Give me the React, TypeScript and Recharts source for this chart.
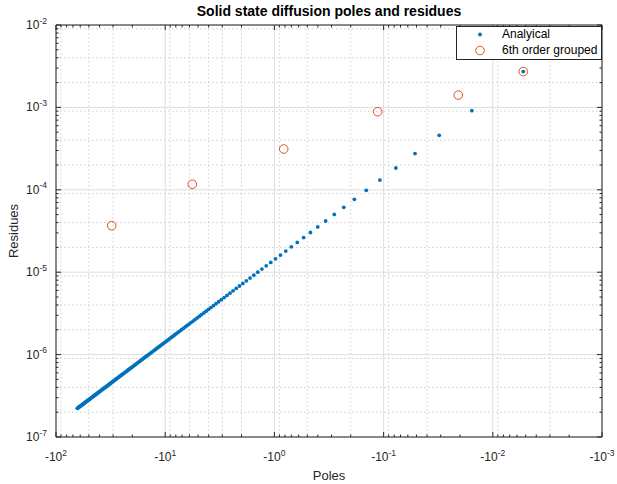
import React from 'react';
import { ScatterChart, Scatter, XAxis, YAxis, CartesianGrid } from 'recharts';

// Analytical poles (1/s) and residues
const analyticalPoles = [
  -0.00526, -0.01555, -0.03097, -0.05154, -0.07725, -0.1081, -0.1441, -0.1852, -0.2315, -0.2829,
  -0.3395, -0.4012, -0.4681, -0.5400, -0.6172, -0.6994, -0.7869, -0.8794, -0.9771, -1.080,
  -1.188, -1.302, -1.420, -1.543, -1.672, -1.806, -1.944, -2.088, -2.237, -2.392,
  -2.551, -2.716, -2.885, -3.060, -3.240, -3.425, -3.616, -3.811, -4.011, -4.217,
  -4.428, -4.644, -4.865, -5.091, -5.323, -5.559, -5.801, -6.048, -6.300, -6.557,
  -6.819, -7.086, -7.359, -7.637, -7.919, -8.207, -8.500, -8.799, -9.102, -9.411,
  -9.724, -10.04, -10.37, -10.70, -11.03, -11.37, -11.71, -12.06, -12.42, -12.78,
  -13.14, -13.51, -13.89, -14.27, -14.66, -15.05, -15.44, -15.84, -16.25, -16.66,
  -17.08, -17.50, -17.93, -18.36, -18.80, -19.24, -19.68, -20.14, -20.59, -21.06,
  -21.53, -22.00, -22.48, -22.96, -23.45, -23.94, -24.44, -24.95, -25.45, -25.97,
  -26.49, -27.01, -27.54, -28.08, -28.62, -29.16, -29.71, -30.27, -30.83, -31.39,
  -31.96, -32.54, -33.12, -33.71, -34.30, -34.89, -35.50, -36.10, -36.71, -37.33,
  -37.95, -38.58, -39.21, -39.85, -40.49, -41.14, -41.80, -42.45, -43.12, -43.79,
  -44.46, -45.14, -45.82, -46.51, -47.20, -47.90, -48.61, -49.32, -50.03, -50.75,
  -51.48, -52.21, -52.94, -53.68, -54.43, -55.18, -55.94, -56.70, -57.46, -58.23,
  -59.01, -59.79, -60.58, -61.37, -62.17, -62.97, -63.78,
];

const analyticalResidues = [
  2.72e-3, 9.13e-4, 4.585e-4, 2.755e-4, 1.838e-4, 1.314e-4, 9.854e-5, 7.666e-5, 6.134e-5, 5.019e-5,
  4.183e-5, 3.539e-5, 3.034e-5, 2.630e-5, 2.301e-5, 2.030e-5, 1.805e-5, 1.615e-5, 1.453e-5, 1.315e-5,
  1.195e-5, 1.091e-5, 1.000e-5, 9.201e-6, 8.494e-6, 7.865e-6, 7.303e-6, 6.800e-6, 6.346e-6, 5.937e-6,
  5.566e-6, 5.229e-6, 4.921e-6, 4.640e-6, 4.382e-6, 4.146e-6, 3.927e-6, 3.726e-6, 3.540e-6, 3.367e-6,
  3.207e-6, 3.058e-6, 2.919e-6, 2.789e-6, 2.668e-6, 2.554e-6, 2.448e-6, 2.348e-6, 2.254e-6, 2.166e-6,
  2.082e-6, 2.004e-6, 1.930e-6, 1.859e-6, 1.793e-6, 1.730e-6, 1.670e-6, 1.614e-6, 1.560e-6, 1.509e-6,
  1.460e-6, 1.414e-6, 1.370e-6, 1.328e-6, 1.287e-6, 1.249e-6, 1.212e-6, 1.177e-6, 1.143e-6, 1.111e-6,
  1.080e-6, 1.051e-6, 1.022e-6, 9.951e-7, 9.689e-7, 9.437e-7, 9.195e-7, 8.963e-7, 8.739e-7, 8.523e-7,
  8.315e-7, 8.115e-7, 7.921e-7, 7.735e-7, 7.555e-7, 7.382e-7, 7.214e-7, 7.052e-7, 6.895e-7, 6.743e-7,
  6.597e-7, 6.455e-7, 6.318e-7, 6.185e-7, 6.056e-7, 5.931e-7, 5.810e-7, 5.692e-7, 5.579e-7, 5.468e-7,
  5.361e-7, 5.257e-7, 5.156e-7, 5.058e-7, 4.962e-7, 4.869e-7, 4.779e-7, 4.692e-7, 4.606e-7, 4.523e-7,
  4.443e-7, 4.364e-7, 4.287e-7, 4.213e-7, 4.140e-7, 4.069e-7, 4.000e-7, 3.933e-7, 3.868e-7, 3.804e-7,
  3.741e-7, 3.680e-7, 3.621e-7, 3.563e-7, 3.507e-7, 3.451e-7, 3.397e-7, 3.345e-7, 3.293e-7, 3.243e-7,
  3.194e-7, 3.146e-7, 3.099e-7, 3.053e-7, 3.008e-7, 2.964e-7, 2.921e-7, 2.879e-7, 2.838e-7, 2.798e-7,
  2.758e-7, 2.720e-7, 2.682e-7, 2.645e-7, 2.609e-7, 2.573e-7, 2.539e-7, 2.504e-7, 2.471e-7, 2.438e-7,
  2.406e-7, 2.375e-7, 2.344e-7, 2.314e-7, 2.284e-7, 2.255e-7, 2.226e-7,
];

// 6th order grouped model
const groupedPoles = [-30.9, -5.65, -0.822, -0.1132, -0.0207, -0.00526];
const groupedResidues = [3.67e-5, 1.167e-4, 3.126e-4, 8.87e-4, 1.41e-3, 2.72e-3];

// Axis ticks (x axis shows |pole| on a reversed log scale, labelled as negative)
const xMajorTicks = [100, 10, 1, 0.1, 0.01, 0.001];
const xMinorTicks = [
  0.002, 0.003, 0.004, 0.005, 0.006, 0.007, 0.008, 0.009,
  0.02, 0.03, 0.04, 0.05, 0.06, 0.07, 0.08, 0.09,
  0.2, 0.3, 0.4, 0.5, 0.6, 0.7, 0.8, 0.9,
  2, 3, 4, 5, 6, 7, 8, 9,
  20, 30, 40, 50, 60, 70, 80, 90,
];
const yMajorTicks = [1e-7, 1e-6, 1e-5, 1e-4, 1e-3, 1e-2];
const yMinorTicks = [
  2e-7, 3e-7, 4e-7, 5e-7, 6e-7, 7e-7, 8e-7, 9e-7,
  2e-6, 3e-6, 4e-6, 5e-6, 6e-6, 7e-6, 8e-6, 9e-6,
  2e-5, 3e-5, 4e-5, 5e-5, 6e-5, 7e-5, 8e-5, 9e-5,
  2e-4, 3e-4, 4e-4, 5e-4, 6e-4, 7e-4, 8e-4, 9e-4,
  2e-3, 3e-3, 4e-3, 5e-3, 6e-3, 7e-3, 8e-3, 9e-3,
];

const TITLE = 'Solid state diffusion poles and residues';
const X_LABEL = 'Poles';
const Y_LABEL = 'Residues';
const SERIES_NAMES = ['Analyical', '6th order grouped'];

const FONT = '"Liberation Sans", Arial, Helvetica, sans-serif';
const AX = '#262626';
const BLUE = '#0072BD';
const ORANGE = '#D95319';

const X_DOMAIN: [number, number] = [0.001, 100];
const Y_DOMAIN: [number, number] = [1e-7, 1e-2];

const analyticalData = analyticalPoles.map((p, i) => ({ x: -p, y: analyticalResidues[i] }));
const groupedData = groupedPoles.map((p, i) => ({ x: -p, y: groupedResidues[i] }));

const xAll = [...xMajorTicks, ...xMinorTicks];
const yAll = [...yMajorTicks, ...yMinorTicks];

const exp10 = (v: number) => Math.round(Math.log10(v));
const isMajor = (v: number) => Math.abs(Math.log10(v) - exp10(v)) < 1e-6;

const BottomTick = (props: any) => {
  const { x, y, payload } = props;
  const v = payload.value;
  const major = isMajor(v);
  const len = major ? 5 : 2.5;
  return (
    <g>
      <line x1={x} x2={x} y1={y} y2={y - len} stroke={AX} strokeWidth={1} />
      {major && (
        <text x={x} y={y + 24} textAnchor="middle" fontSize={12} fill={AX} fontFamily={FONT}>
          <tspan>-10</tspan>
          <tspan dy={-5.5} fontSize={8.5}>{exp10(v)}</tspan>
        </text>
      )}
    </g>
  );
};

const TopTick = (props: any) => {
  const { x, y, payload } = props;
  const len = isMajor(payload.value) ? 5 : 2.5;
  return <line x1={x} x2={x} y1={y} y2={y + len} stroke={AX} strokeWidth={1} />;
};

const LeftTick = (props: any) => {
  const { x, y, payload } = props;
  const v = payload.value;
  const major = isMajor(v);
  const len = major ? 5 : 2.5;
  return (
    <g>
      <line x1={x} x2={x + len} y1={y} y2={y} stroke={AX} strokeWidth={1} />
      {major && (
        <text x={x - 9} y={y + 4} textAnchor="end" fontSize={12} fill={AX} fontFamily={FONT}>
          <tspan>10</tspan>
          <tspan dy={-5.5} fontSize={8.5}>{exp10(v)}</tspan>
        </text>
      )}
    </g>
  );
};

const RightTick = (props: any) => {
  const { x, y, payload } = props;
  const len = isMajor(payload.value) ? 5 : 2.5;
  return <line x1={x} x2={x - len} y1={y} y2={y} stroke={AX} strokeWidth={1} />;
};

const Dot = (props: any) => <circle cx={props.cx} cy={props.cy} r={1.9} fill={BLUE} />;
const Ring = (props: any) => (
  <circle cx={props.cx} cy={props.cy} r={4.3} fill="none" stroke={ORANGE} strokeWidth={1} />
);

export default function App() {
  return (
    <div style={{ position: 'absolute', left: 0, top: 0, width: 617, height: 484, background: '#fff' }}>
      <ScatterChart width={617} height={484} margin={{ top: 0, right: 0, bottom: 0, left: 0 }}>
        <XAxis
          xAxisId="b" orientation="bottom" type="number" dataKey="x" scale="log" domain={X_DOMAIN} reversed
          ticks={xAll} interval={0} height={47} tickSize={0} tickMargin={0} tickLine={false}
          tick={<BottomTick />} axisLine={{ stroke: AX, strokeWidth: 1 }} allowDataOverflow
        />
        <XAxis
          xAxisId="t" orientation="top" type="number" dataKey="x" scale="log" domain={X_DOMAIN} reversed
          ticks={xAll} interval={0} height={25} tickSize={0} tickMargin={0} tickLine={false}
          tick={<TopTick />} axisLine={{ stroke: AX, strokeWidth: 1 }} allowDataOverflow
        />
        <YAxis
          yAxisId="l" orientation="left" type="number" dataKey="y" scale="log" domain={Y_DOMAIN}
          ticks={yAll} interval={0} width={56} tickSize={0} tickMargin={0} tickLine={false}
          tick={<LeftTick />} axisLine={{ stroke: AX, strokeWidth: 1 }} allowDataOverflow
        />
        <YAxis
          yAxisId="r" orientation="right" type="number" dataKey="y" scale="log" domain={Y_DOMAIN}
          ticks={yAll} interval={0} width={15} tickSize={0} tickMargin={0} tickLine={false}
          tick={<RightTick />} axisLine={{ stroke: AX, strokeWidth: 1 }} allowDataOverflow
        />
        <XAxis xAxisId="gM" orientation="bottom" type="number" dataKey="x" scale="log" domain={X_DOMAIN} reversed hide height={0} ticks={xMajorTicks} allowDataOverflow />
        <XAxis xAxisId="gm" orientation="bottom" type="number" dataKey="x" scale="log" domain={X_DOMAIN} reversed hide height={0} ticks={xMinorTicks} allowDataOverflow />
        <YAxis yAxisId="gM" orientation="left" type="number" dataKey="y" scale="log" domain={Y_DOMAIN} hide width={0} ticks={yMajorTicks} allowDataOverflow />
        <YAxis yAxisId="gm" orientation="left" type="number" dataKey="y" scale="log" domain={Y_DOMAIN} hide width={0} ticks={yMinorTicks} allowDataOverflow />
        <CartesianGrid xAxisId="gm" yAxisId="gm" stroke="#cfcfcf" strokeDasharray="1.5 2.5" strokeWidth={1} />
        <CartesianGrid xAxisId="gM" yAxisId="gM" stroke="#dedede" strokeWidth={1} />

        <Scatter name={SERIES_NAMES[0]} data={analyticalData} xAxisId="b" yAxisId="l" shape={<Dot />} isAnimationActive={false} />
        <Scatter name={SERIES_NAMES[1]} data={groupedData} xAxisId="b" yAxisId="l" shape={<Ring />} isAnimationActive={false} />
      </ScatterChart>

      <svg width={617} height={484} style={{ position: 'absolute', left: 0, top: 0, pointerEvents: 'none' }}>
        <text x={329} y={16} textAnchor="middle" fontSize={14} fontWeight="bold" fill="#000" fontFamily={FONT}>{TITLE}</text>
        <text x={329} y={480} textAnchor="middle" fontSize={13} fill={AX} fontFamily={FONT}>{X_LABEL}</text>
        <text x={18} y={231} textAnchor="middle" fontSize={13} fill={AX} fontFamily={FONT} transform="rotate(-90 18 231)">{Y_LABEL}</text>
      </svg>

      <div
        style={{
          position: 'absolute', left: 456, top: 26, width: 146, height: 34, boxSizing: 'border-box',
          border: `1px solid ${AX}`, background: '#fff', fontFamily: FONT, fontSize: 12, color: '#000',
        }}
      >
        <svg width={40} height={32} style={{ position: 'absolute', left: 0, top: 0 }}>
          <circle cx={23} cy={7.5} r={1.9} fill={BLUE} />
          <circle cx={23} cy={23.5} r={4.3} fill="none" stroke={ORANGE} strokeWidth={1} />
        </svg>
        <div style={{ position: 'absolute', left: 45, top: 0, lineHeight: '15px', whiteSpace: 'nowrap' }}>{SERIES_NAMES[0]}</div>
        <div style={{ position: 'absolute', left: 45, top: 16, lineHeight: '15px', whiteSpace: 'nowrap' }}>{SERIES_NAMES[1]}</div>
      </div>
    </div>
  );
}
